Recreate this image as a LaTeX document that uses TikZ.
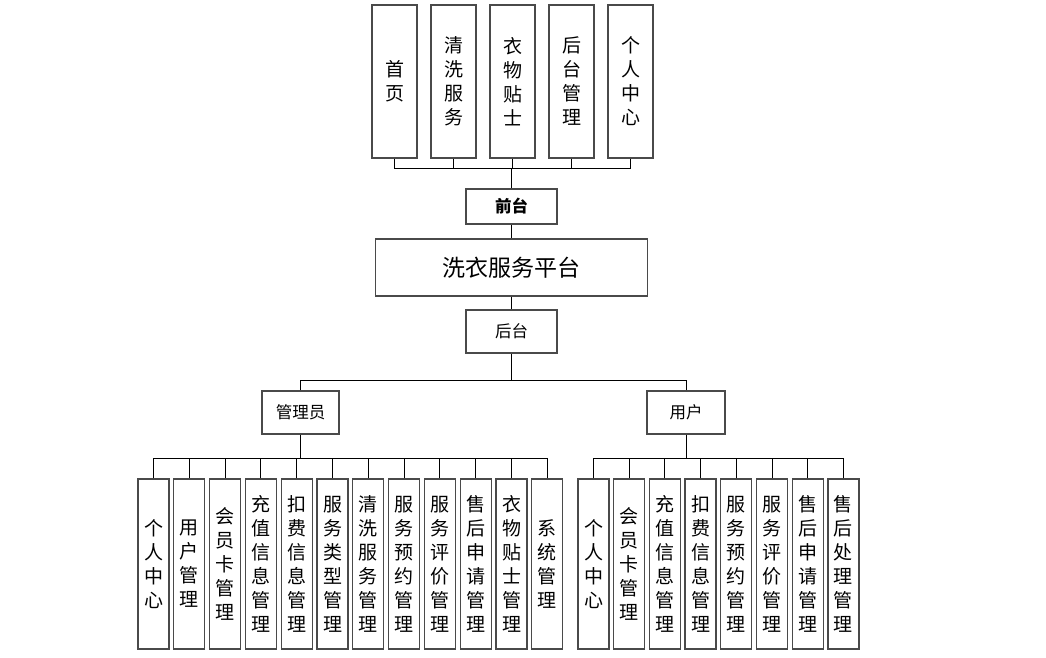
\documentclass[tikz,border=0pt]{standalone}
\usepackage{fontspec}
\newfontfamily\cjk{Noto Sans CJK SC}
\usepackage{tikz}
\usetikzlibrary{positioning}
\definecolor{BoxGray}{HTML}{4A4A4A}
\tikzset{
  box/.style={
    rectangle, draw=BoxGray, line width=1.3pt,
    inner sep=0pt, align=center,
    font=\cjk\fontsize{19}{24}\selectfont
  },
  topbox/.style={box, minimum width=45pt, minimum height=153pt},
  subbox/.style={box, minimum width=31pt, minimum height=170pt},
  hbox/.style={box, font=\cjk\fontsize{16.5}{20}\selectfont},
  link/.style={line width=1pt, color=black},
}
\begin{document}
\begin{tikzpicture}[x=1pt, y=-1pt]

\useasboundingbox (0,0) rectangle (1046,657);

% front pages, top row
\node[topbox] at (394.5,81.5) (fHome) {首\\页};
\node[topbox] at (453.5,81.5) (fWash) {清\\洗\\服\\务};
\node[topbox] at (512.5,81.5) (fTips) {衣\\物\\贴\\士};
\node[topbox] at (571.5,81.5) (fBack) {后\\台\\管\\理};
\node[topbox] at (630.5,81.5) (fMine) {个\\人\\中\\心};

\node[hbox, minimum width=91pt, minimum height=35pt] at (511.5,206.5) (front) {\bfseries 前台};
\node[box, minimum width=272pt, minimum height=57pt,
      font=\cjk\fontsize{23}{28}\selectfont] at (511.5,267.5) (platform) {洗衣服务平台};
\node[hbox, minimum width=91pt, minimum height=43pt] at (511.5,331.5) (back) {后台};

\node[hbox, minimum width=77pt, minimum height=43pt] at (300.5,412.5) (admin) {管理员};
\node[hbox, minimum width=78pt, minimum height=43pt] at (686,412.5) (user) {用户};

% admin modules
\node[subbox] at (153.5,564) (a1) {个\\人\\中\\心};
\node[subbox] at (189.3,564) (a2) {用\\户\\管\\理};
\node[subbox] at (225.1,564) (a3) {会\\员\\卡\\管\\理};
\node[subbox] at (260.9,564) (a4) {充\\值\\信\\息\\管\\理};
\node[subbox] at (296.7,564) (a5) {扣\\费\\信\\息\\管\\理};
\node[subbox] at (332.5,564) (a6) {服\\务\\类\\型\\管\\理};
\node[subbox] at (368.3,564) (a7) {清\\洗\\服\\务\\管\\理};
\node[subbox] at (404.1,564) (a8) {服\\务\\预\\约\\管\\理};
\node[subbox] at (439.9,564) (a9) {服\\务\\评\\价\\管\\理};
\node[subbox] at (475.7,564) (a10) {售\\后\\申\\请\\管\\理};
\node[subbox] at (511.5,564) (a11) {衣\\物\\贴\\士\\管\\理};
\node[subbox] at (547.3,564) (a12) {系\\统\\管\\理};

% user modules
\node[subbox] at (593.5,564) (u1) {个\\人\\中\\心};
\node[subbox] at (629.2,564) (u2) {会\\员\\卡\\管\\理};
\node[subbox] at (664.9,564) (u3) {充\\值\\信\\息\\管\\理};
\node[subbox] at (700.6,564) (u4) {扣\\费\\信\\息\\管\\理};
\node[subbox] at (736.3,564) (u5) {服\\务\\预\\约\\管\\理};
\node[subbox] at (772.0,564) (u6) {服\\务\\评\\价\\管\\理};
\node[subbox] at (807.7,564) (u7) {售\\后\\申\\请\\管\\理};
\node[subbox] at (843.4,564) (u8) {售\\后\\处\\理\\管\\理};

% bus points
\coordinate (fBus) at (511.5,168);
\coordinate (bBus) at (511.5,380);
\coordinate (aBus) at (300.5,458);
\coordinate (uBus) at (686,458);

\foreach \n in {fHome,fWash,fTips,fBack,fMine}
  \draw[link] (\n.south) |- (fBus);
\draw[link] (front.north) -- (fBus);
\draw[link] (front.south) -- (platform.north);
\draw[link] (platform.south) -- (back.north);
\draw[link] (back.south) -- (bBus);
\draw[link] (admin.north) |- (bBus);
\draw[link] (user.north) |- (bBus);
\draw[link] (admin.south) -- (aBus);
\draw[link] (user.south) -- (uBus);
\foreach \n in {a1,a2,a3,a4,a5,a6,a7,a8,a9,a10,a11,a12}
  \draw[link] (\n.north) |- (aBus);
\foreach \n in {u1,u2,u3,u4,u5,u6,u7,u8}
  \draw[link] (\n.north) |- (uBus);

\end{tikzpicture}
\end{document}
